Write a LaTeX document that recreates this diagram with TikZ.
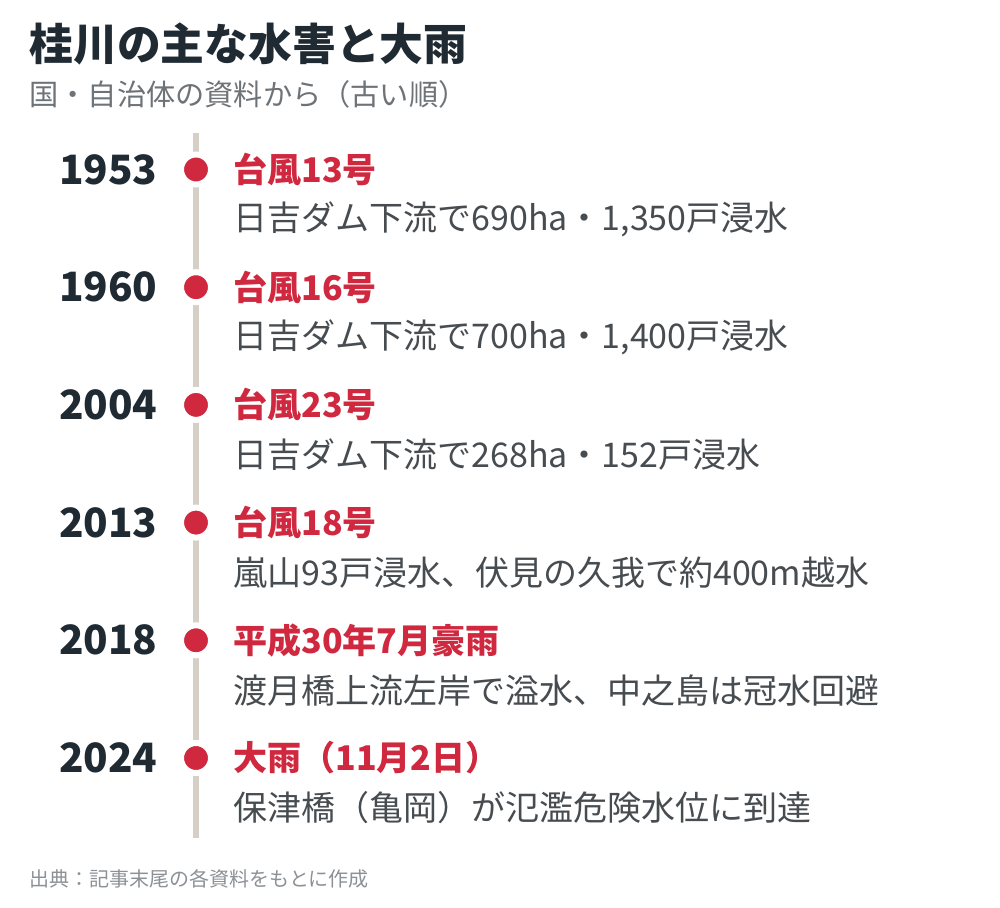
\documentclass[tikz,border=0pt]{standalone}
\usepackage{fontspec}
\setmainfont{Noto Sans CJK JP}
\usetikzlibrary{positioning}
\definecolor{tinta}{HTML}{1F2A33}
\definecolor{gris}{HTML}{6E7378}
\definecolor{rojo}{HTML}{D0283E}
\definecolor{texto}{HTML}{474C51}
\definecolor{eje}{HTML}{D6CFC5}
\definecolor{pie}{HTML}{8C9196}
\tikzset{
  titulo/.style={anchor=west,inner sep=0pt,text=tinta,font=\fontsize{21.9pt}{24pt}\selectfont\bfseries},
  subtitulo/.style={anchor=west,inner sep=0pt,text=gris,font=\fontsize{14.6pt}{16pt}\selectfont},
  anio/.style={anchor=east,inner sep=0pt,text=tinta,font=\fontsize{20.2pt}{24pt}\selectfont\bfseries},
  punto/.style={circle,fill=rojo,draw=white,line width=3pt,inner sep=0pt,minimum size=15pt},
  evento/.style={anchor=west,inner sep=0pt,text=rojo,font=\fontsize{17pt}{20pt}\selectfont\bfseries},
  detalle/.style={anchor=west,inner sep=0pt,text=texto,font=\fontsize{17pt}{20pt}\selectfont},
  fuente/.style={anchor=west,inner sep=0pt,text=pie,font=\fontsize{10pt}{12pt}\selectfont},
  linea/.style={draw=eje,line width=3pt}
}
\begin{document}
\begin{tikzpicture}[x=0.5pt,y=-0.5pt]
	\useasboundingbox[fill=white] (0,0) rectangle (1000,908);
	\node[titulo] (titulo) at (29,44) {桂川の主な水害と大雨};
	\node[subtitulo] (subtitulo) at (29,94) {国・自治体の資料から（古い順）};

	\coordinate (arriba) at (196,133);
	\coordinate (abajo) at (196,838);
	\draw[linea] (arriba) -- (abajo);

	\foreach \Anio/\Evento/\Detalle [count=\i] in {
		1953/台風13号/{日吉ダム下流で690ha・1,350戸浸水},
		1960/台風16号/{日吉ダム下流で700ha・1,400戸浸水},
		2004/台風23号/{日吉ダム下流で268ha・152戸浸水},
		2013/台風18号/{嵐山93戸浸水、伏見の久我で約400m越水},
		2018/平成30年7月豪雨/{渡月橋上流左岸で溢水、中之島は冠水回避},
		2024/大雨（11月2日）/{保津橋（亀岡）が氾濫危険水位に到達}} {
		\pgfmathsetmacro\Y{169.5+117.7*(\i-1)}
		\node[anio] (anio\i) at (158,\Y) {\Anio};
		\node[punto] (punto\i) at (196,\Y) {};
		\node[evento] (evento\i) at (233,\Y) {\Evento};
		\node[detalle] (detalle\i) at (233,\Y+50) {\Detalle};
	}

	\node[fuente] (fuente) at (29,879) {出典：記事末尾の各資料をもとに作成};
\end{tikzpicture}
\end{document}
